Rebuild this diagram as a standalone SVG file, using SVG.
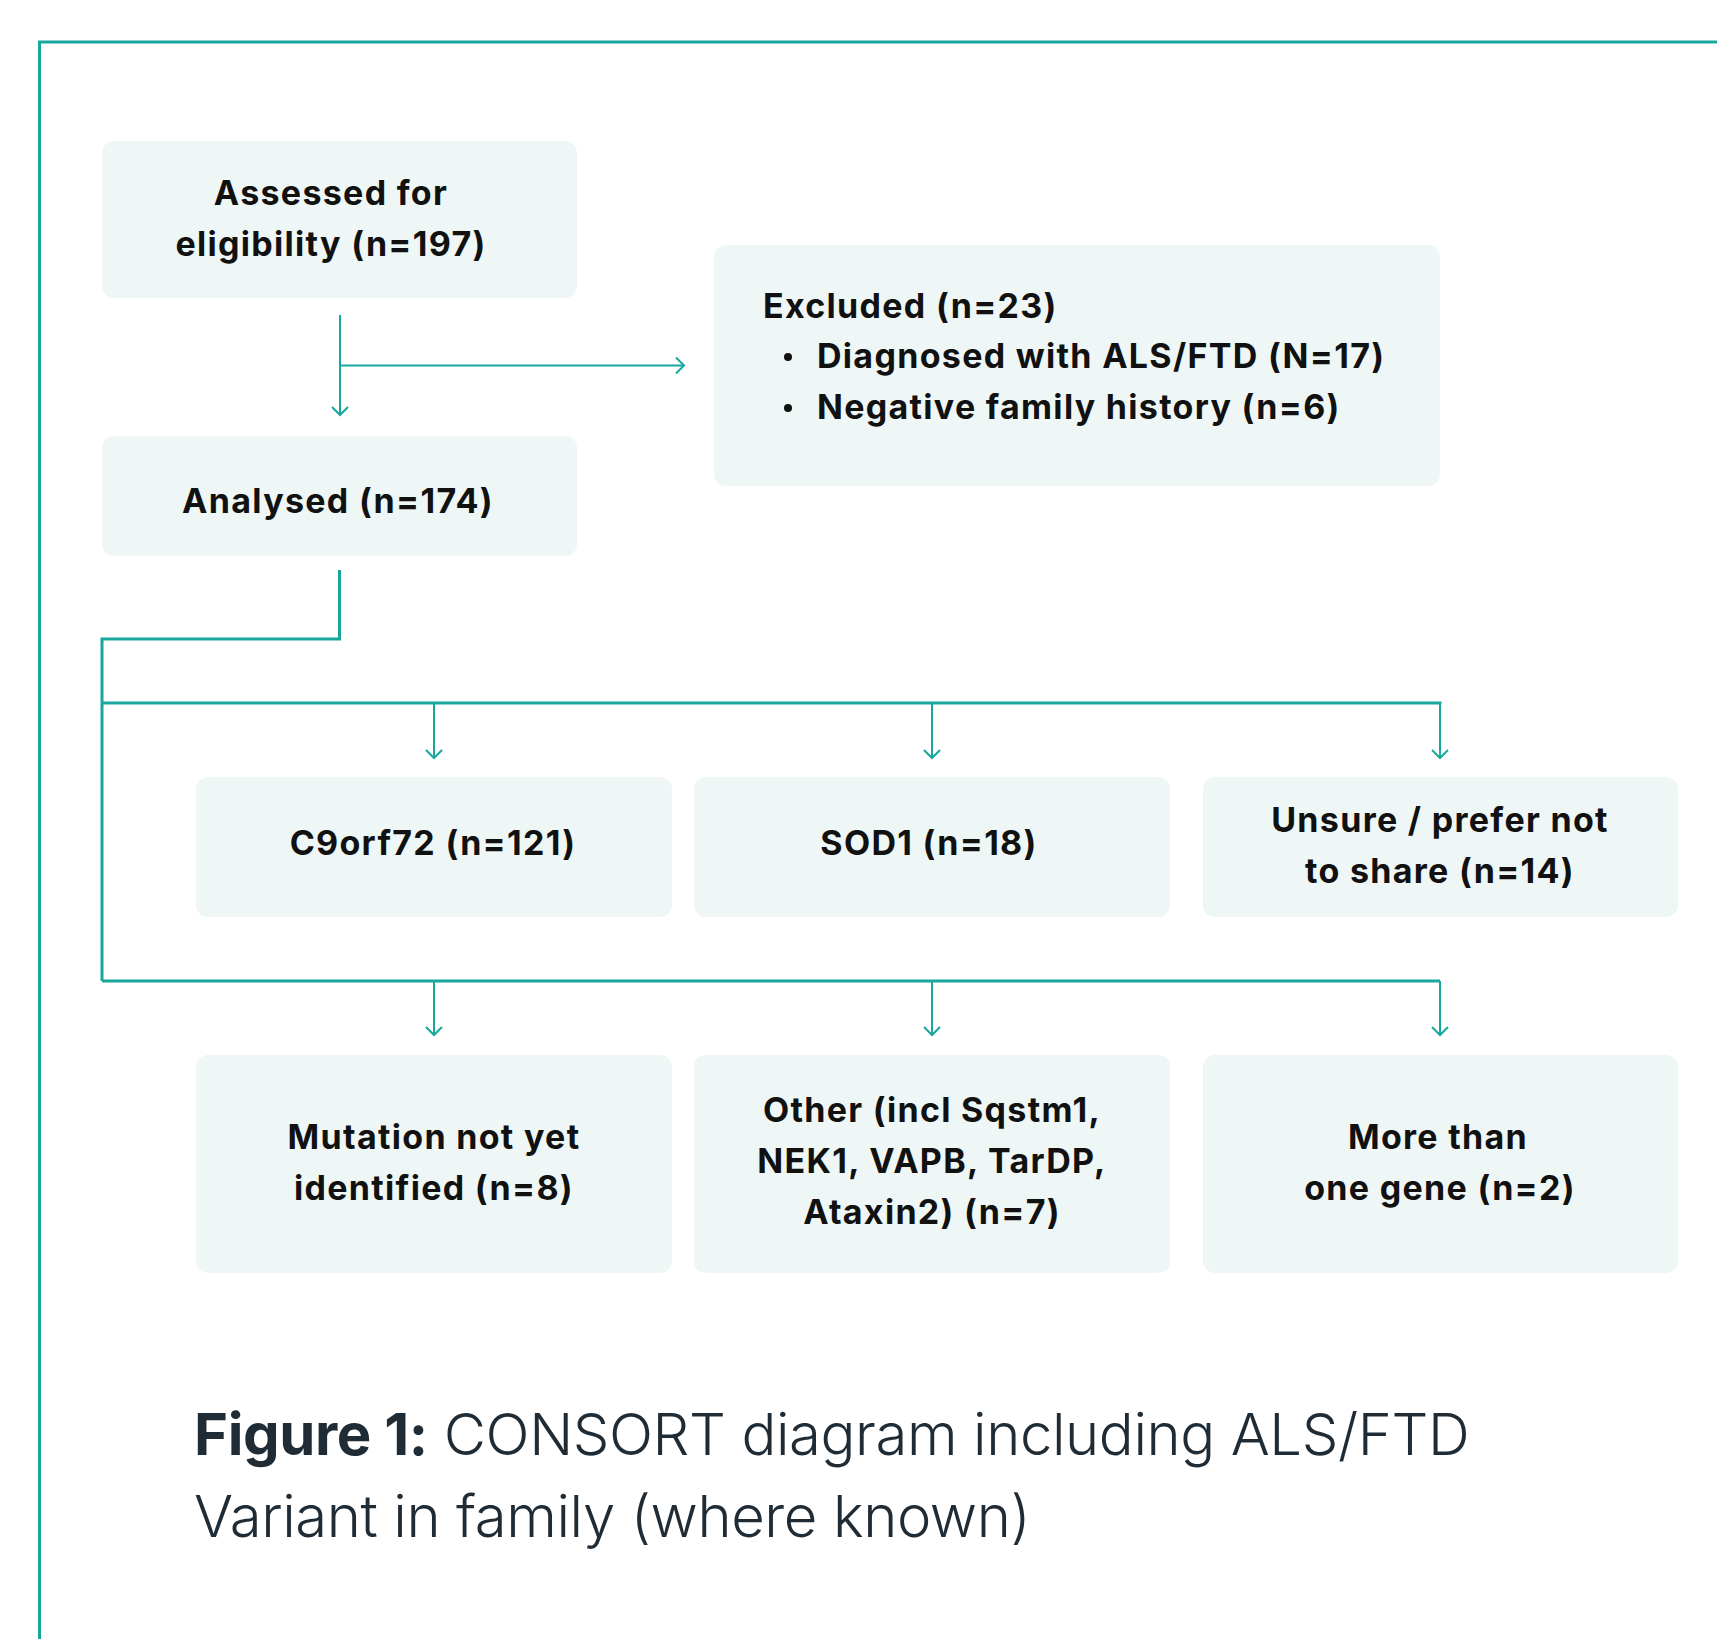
<svg xmlns="http://www.w3.org/2000/svg" width="1717" height="1639" viewBox="0 0 1717 1639">
<defs>
<marker id="arr" markerUnits="userSpaceOnUse" markerWidth="20" markerHeight="20" viewBox="-10 -10 20 20" refX="0" refY="0" orient="auto">
<path d="M-8,-8 L0,0 L-8,8" fill="none" stroke="#17a79d" stroke-width="2"/>
</marker>
</defs>
<style>
.box{fill:#eef7f6}
.t{font-family:Inter,"Liberation Sans",sans-serif;font-weight:700;font-size:34px;fill:#111;text-anchor:middle;letter-spacing:1.3px}
.tl{text-anchor:start}
.ln{fill:none;stroke:#17a79d;stroke-width:2}
.tk{fill:none;stroke:#17a79d;stroke-width:3}
.cap{font-family:Inter,"Liberation Sans",sans-serif;font-size:58px;fill:#1f2b35;font-weight:300;letter-spacing:-0.4px}
</style>
<rect width="1717" height="1639" fill="#fff"/>
<path class="tk" d="M1717,42 H39.5 V1639"/>
<g id="connectors">
<path class="ln" d="M340,315 V415" marker-end="url(#arr)"/>
<path class="ln" d="M340,365.5 H684" marker-end="url(#arr)"/>
<path class="tk" d="M339.5,570 V639 H102 V981 M102,703 H1440 V704 M102,981 H1440"/>
<path class="ln" d="M434,703 V758" marker-end="url(#arr)"/>
<path class="ln" d="M932,703 V758" marker-end="url(#arr)"/>
<path class="ln" d="M1440,703 V758" marker-end="url(#arr)"/>
<path class="ln" d="M434,981 V1035" marker-end="url(#arr)"/>
<path class="ln" d="M932,981 V1035" marker-end="url(#arr)"/>
<path class="ln" d="M1440,981 V1035" marker-end="url(#arr)"/>
</g>
<g id="assessed">
<rect class="box" x="102" y="141" width="475" height="157" rx="12"/>
<text class="t" x="331" y="205">Assessed for</text>
<text class="t" x="331" y="256">eligibility (n=197)</text>
</g>
<g id="excluded">
<rect class="box" x="714" y="245" width="726" height="241" rx="12"/>
<text class="t tl" x="763" y="318">Excluded (n=23)</text>
<circle cx="788" cy="357" r="4" fill="#111"/>
<text class="t tl" x="817" y="368">Diagnosed with ALS/FTD (N=17)</text>
<circle cx="788" cy="408" r="4" fill="#111"/>
<text class="t tl" x="817" y="419">Negative family history (n=6)</text>
</g>
<g id="analysed">
<rect class="box" x="102" y="436" width="475" height="120" rx="12"/>
<text class="t" x="338" y="513">Analysed (n=174)</text>
</g>
<g id="c9orf72">
<rect class="box" x="196" y="777" width="476" height="140" rx="12"/>
<text class="t" x="433" y="855">C9orf72 (n=121)</text>
</g>
<g id="sod1">
<rect class="box" x="694" y="777" width="476" height="140" rx="12"/>
<text class="t" x="929" y="855">SOD1 (n=18)</text>
</g>
<g id="unsure">
<rect class="box" x="1203" y="777" width="475" height="140" rx="12"/>
<text class="t" x="1440" y="832">Unsure / prefer not</text>
<text class="t" x="1440" y="883">to share (n=14)</text>
</g>
<g id="mutation">
<rect class="box" x="196" y="1055" width="476" height="218" rx="12"/>
<text class="t" x="434" y="1149">Mutation not yet</text>
<text class="t" x="434" y="1200">identified (n=8)</text>
</g>
<g id="other">
<rect class="box" x="694" y="1055" width="476" height="218" rx="12"/>
<text class="t" x="932" y="1122">Other (incl Sqstm1,</text>
<text class="t" x="932" y="1173">NEK1, VAPB, TarDP,</text>
<text class="t" x="932" y="1224">Ataxin2) (n=7)</text>
</g>
<g id="morethan">
<rect class="box" x="1203" y="1055" width="475" height="218" rx="12"/>
<text class="t" x="1438" y="1149">More than</text>
<text class="t" x="1440" y="1200">one gene (n=2)</text>
</g>
<g id="caption">
<text class="cap" x="194" y="1455"><tspan font-weight="700">Figure 1:</tspan> CONSORT diagram including ALS/FTD</text>
<text class="cap" x="194" y="1537">Variant in family (where known)</text>
</g>
</svg>
